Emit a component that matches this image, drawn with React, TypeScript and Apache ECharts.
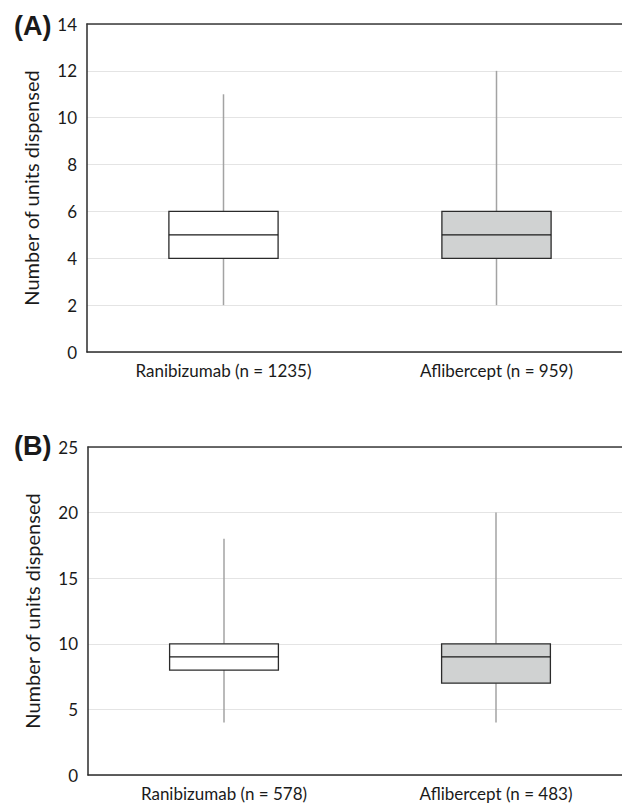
import React, { useEffect, useRef } from "react";
import * as echarts from "echarts";

const categories = ["Ranibizumab", "Aflibercept"];
const panelALabels = ["Ranibizumab (n = 1235)", "Aflibercept (n = 959)"];
const panelBLabels = ["Ranibizumab (n = 578)", "Aflibercept (n = 483)"];
// [min, Q1, median, Q3, max]
const panelARanibizumab = [2, 4, 5, 6, 11];
const panelAAflibercept = [2, 4, 5, 6, 12];
const panelBRanibizumab = [4, 8, 9, 10, 18];
const panelBAflibercept = [4, 7, 9, 10, 20];
const panelATicks = { min: 0, max: 14, interval: 2 };
const panelBTicks = { min: 0, max: 25, interval: 5 };
const fills = ["#ffffff", "#d0d2d2"];

const FONT = "Lato";

const renderBox = (params: any, api: any) => {
  const idx = api.value(0);
  const mn = api.value(1);
  const q1 = api.value(2);
  const md = api.value(3);
  const q3 = api.value(4);
  const mx = api.value(5);
  const pMin = api.coord([idx, mn]);
  const pQ1 = api.coord([idx, q1]);
  const pMd = api.coord([idx, md]);
  const pQ3 = api.coord([idx, q3]);
  const pMax = api.coord([idx, mx]);
  const bandW = api.size([1, 0])[0];
  const half = bandW * 0.2;
  const x = pMin[0];
  const whisker = { stroke: "#a3a3a3", lineWidth: 1.5 };
  return {
    type: "group",
    children: [
      { type: "line", shape: { x1: x, y1: pMax[1], x2: x, y2: pQ3[1] }, style: whisker },
      { type: "line", shape: { x1: x, y1: pQ1[1], x2: x, y2: pMin[1] }, style: whisker },
      {
        type: "rect",
        shape: { x: x - half, y: pQ3[1], width: 2 * half, height: pQ1[1] - pQ3[1] },
        style: { fill: fills[idx], stroke: "#2b2b2b", lineWidth: 1.3 },
      },
      {
        type: "line",
        shape: { x1: x - half, y1: pMd[1], x2: x + half, y2: pMd[1] },
        style: { stroke: "#1a1a1a", lineWidth: 1.4 },
      },
    ],
  };
};

export default function App() {
  const ref = useRef<HTMLDivElement>(null);
  useEffect(() => {
    document.body.style.margin = "0";
    if (!ref.current) return;
    const chart = echarts.init(ref.current, undefined, { renderer: "svg" });
    const yAxisCommon = (ticks: any, gridIndex: number) => ({
      type: "value",
      gridIndex,
      min: ticks.min,
      max: ticks.max,
      interval: ticks.interval,
      name: "Number of units dispensed",
      nameLocation: "middle",
      nameGap: 46,
      nameTextStyle: { fontFamily: FONT, fontSize: 20, color: "#1a1a1a" },
      axisLine: { show: true, lineStyle: { color: "#2b2b2b", width: 1.5 } },
      axisTick: { show: false },
      axisLabel: { fontFamily: FONT, fontSize: 17, color: "#1a1a1a", margin: 10 },
      splitLine: { show: true, lineStyle: { color: "#e4e4e4", width: 1.2 } },
    });
    const xAxisCommon = (labels: string[], gridIndex: number) => ({
      type: "category",
      gridIndex,
      data: labels,
      boundaryGap: true,
      axisLine: { show: true, onZero: false, lineStyle: { color: "#2b2b2b", width: 1.5 } },
      axisTick: { show: false },
      axisLabel: { fontFamily: FONT, fontSize: 17, color: "#1a1a1a", margin: 10 },
    });
    const topAxis = (gridIndex: number) => ({
      type: "category",
      gridIndex,
      position: "top",
      data: categories,
      axisLine: { show: true, onZero: false, lineStyle: { color: "#3a3a3a", width: 1.5 } },
      axisTick: { show: false },
      axisLabel: { show: false },
    });
    chart.setOption({
      animation: false,
      backgroundColor: "#ffffff",
      title: [
        { text: "(A)", left: 9, top: 7, textStyle: { fontFamily: "Liberation Sans", fontWeight: "bold", fontSize: 27, color: "#1a1a1a" } },
        { text: "(B)", left: 9, top: 427, textStyle: { fontFamily: "Liberation Sans", fontWeight: "bold", fontSize: 27, color: "#1a1a1a" } },
      ],
      grid: [
        { left: 87, right: 0, top: 24, height: 328 },
        { left: 88, right: 1, top: 447, height: 328 },
      ],
      xAxis: [xAxisCommon(panelALabels, 0), xAxisCommon(panelBLabels, 1), topAxis(0), topAxis(1)],
      yAxis: [yAxisCommon(panelATicks, 0), yAxisCommon(panelBTicks, 1)],
      series: [
        {
          type: "custom",
          xAxisIndex: 0,
          yAxisIndex: 0,
          renderItem: renderBox,
          encode: { x: 0, y: [1, 2, 3, 4, 5] },
          data: [
            [0, ...panelARanibizumab],
            [1, ...panelAAflibercept],
          ],
        },
        {
          type: "custom",
          xAxisIndex: 1,
          yAxisIndex: 1,
          renderItem: renderBox,
          encode: { x: 0, y: [1, 2, 3, 4, 5] },
          data: [
            [0, ...panelBRanibizumab],
            [1, ...panelBAflibercept],
          ],
        },
      ],
    });
    return () => chart.dispose();
  }, []);
  return (
    <div style={{ width: 622, height: 805, overflow: "hidden" }}>
      <div ref={ref} style={{ width: 633, height: 805 }} />
    </div>
  );
}
